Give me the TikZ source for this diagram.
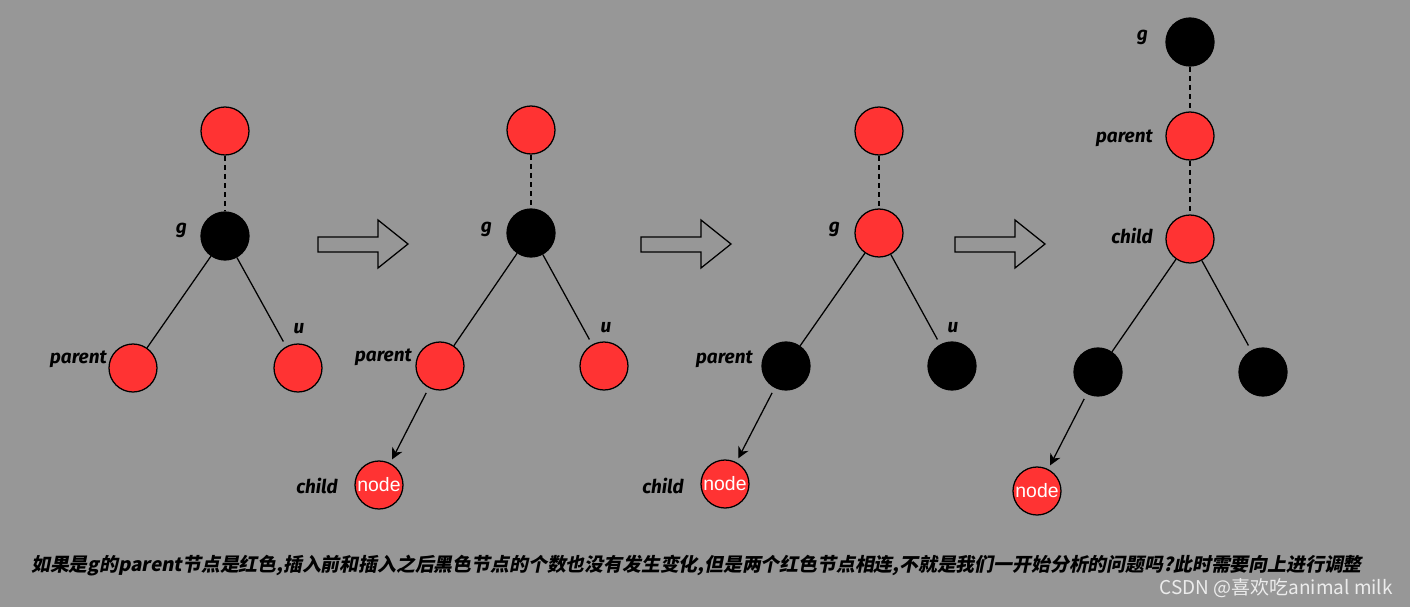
\documentclass[tikz,border=0pt]{standalone}
\usepackage{fontspec}
\setmainfont{Liberation Sans}
\newfontfamily\lblfont{Fira Sans}
\newfontfamily\cjkfont{Noto Sans CJK SC}[FakeSlant=0.2]
\newfontfamily\markfont{Noto Sans CJK SC}
\usetikzlibrary{arrows.meta,positioning}
\definecolor{BgGray}{RGB}{151,151,151}
\definecolor{NodeRed}{RGB}{255,51,51}
\definecolor{MarkGray}{RGB}{236,236,236}

\begin{document}
\begin{tikzpicture}[
      x=0.025cm,y=-0.025cm,
      rNode/.style={circle,draw=black,fill=NodeRed,line width=0.9pt,
                    minimum size=1.2cm,inner sep=0pt,
                    font=\fontsize{13.8}{14}\selectfont,text=white},
      kNode/.style={circle,draw=black,fill=black,line width=0.9pt,
                    minimum size=1.2cm,inner sep=0pt},
      lbl/.style={font=\lblfont\fontsize{13.5}{14}\selectfont\bfseries\itshape,
                  anchor=base east,inner sep=0pt},
      ln/.style={line width=0.9pt},
      dl/.style={line width=0.9pt,dash pattern=on 3.5pt off 3pt},
      ar/.style={-{Stealth[length=8pt,width=8pt,inset=2.5pt]},line width=0.9pt,
                 shorten <=4pt,shorten >=3pt},
      blk/.style={draw=black,line width=0.9pt,fill=BgGray}
    ]

    % background and page size
    \fill[BgGray] (0,0) rectangle (1410,607);
    \useasboundingbox (0,0) rectangle (1410,607);

    % Tree 1: before insertion
    \node(t1)[rNode] at (225,131) {};
    \node(g1)[kNode] at (225,236) {};
    \node(p1)[rNode] at (133,368) {};
    \node(u1)[rNode] at (298,368) {};
    \node(lg1)[lbl] at (187,233) {g};
    \node(lp1)[lbl] at (107,363) {parent};
    \node(lu1)[lbl,anchor=base] at (299,333) {u};
    \draw[dl] (t1) -- (g1);
    \draw[ln] (g1) -- (p1);
    \draw[ln,shorten >=4pt] (g1) -- (u1);

    % Big arrows between the steps
    \draw[blk] (318,237) -- ++(60,0) -- ++(0,-17) -- ++(30,24) -- ++(-30,24) -- ++(0,-16) -- ++(-60,0) -- cycle;
    \draw[blk] (641,237) -- ++(60,0) -- ++(0,-17) -- ++(30,24) -- ++(-30,24) -- ++(0,-16) -- ++(-60,0) -- cycle;
    \draw[blk] (955,237) -- ++(60,0) -- ++(0,-17) -- ++(30,24) -- ++(-30,24) -- ++(0,-16) -- ++(-60,0) -- cycle;

    % Tree 2: red child inserted under parent
    \node(t2)[rNode] at (531,130) {};
    \node(g2)[kNode] at (531,233) {};
    \node(p2)[rNode] at (440,366) {};
    \node(u2)[rNode] at (604,366) {};
    \node(c2)[rNode] at (379,485) {node};
    \node(lg2)[lbl] at (492,232) {g};
    \node(lp2)[lbl] at (412,361) {parent};
    \node(lu2)[lbl,anchor=base] at (606,332) {u};
    \node(lc2)[lbl] at (338,493) {child};
    \draw[dl] (t2) -- (g2);
    \draw[ln] (g2) -- (p2);
    \draw[ln,shorten >=4pt] (g2) -- (u2);
    \draw[ar] (p2) -- (c2);

    % Tree 3: recolour g, parent and u
    \node(t3)[rNode] at (879,131) {};
    \node(g3)[rNode] at (879,233) {};
    \node(p3)[kNode] at (786,366) {};
    \node(u3)[kNode] at (952,366) {};
    \node(c3)[rNode] at (725,484) {node};
    \node(lg3)[lbl] at (840,232) {g};
    \node(lp3)[lbl] at (753,363) {parent};
    \node(lu3)[lbl,anchor=base] at (953,332) {u};
    \node(lc3)[lbl] at (684,493) {child};
    \draw[dl] (t3) -- (g3);
    \draw[ln] (g3) -- (p3);
    \draw[ln,shorten >=4pt] (g3) -- (u3);
    \draw[ar] (p3) -- (c3);

    % Tree 4: g becomes the new child, continue upward
    \node(g4)[kNode] at (1190,42) {};
    \node(p4)[rNode] at (1190,136) {};
    \node(c4)[rNode] at (1190,239) {};
    \node(l4)[kNode] at (1098,372) {};
    \node(r4)[kNode] at (1263,372) {};
    \node(n4)[rNode] at (1037,491) {node};
    \node(lg4)[lbl] at (1148,40) {g};
    \node(lp4)[lbl] at (1153,142) {parent};
    \node(lc4)[lbl] at (1153,243) {child};
    \draw[dl] (g4) -- (p4);
    \draw[dl] (p4) -- (c4);
    \draw[ln] (c4) -- (l4);
    \draw[ln,shorten >=4pt] (c4) -- (r4);
    \draw[ar] (l4) -- (n4);

    % Caption and watermark
    \node(cap)[anchor=west,inner sep=0pt,font=\cjkfont\bfseries\fontsize{13.4}{14}\selectfont]
      at (31,566) {如果是g的parent节点是红色,插入前和插入之后黑色节点的个数也没有发生变化,但是两个红色节点相连,不就是我们一开始分析的问题吗?此时需要向上进行调整};
    \node(wm)[anchor=east,inner sep=0pt,text=MarkGray,font=\markfont\fontsize{13.5}{14}\selectfont]
      at (1393,588) {CSDN @喜欢吃animal milk};
  \end{tikzpicture}
\end{document}
